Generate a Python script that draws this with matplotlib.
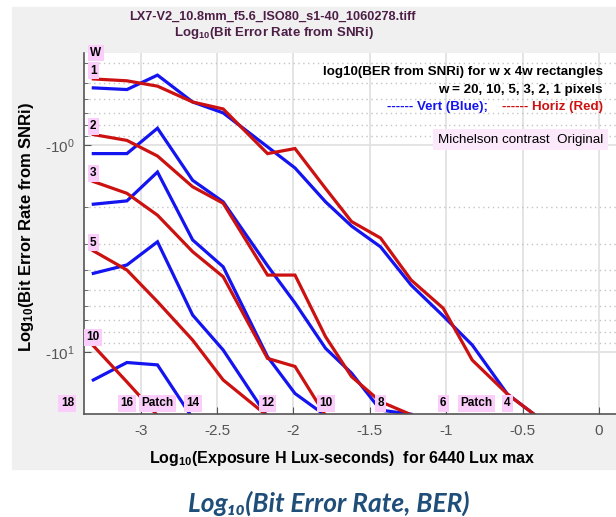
import numpy as np
import matplotlib
matplotlib.use('Agg')
import matplotlib.pyplot as plt
from matplotlib.patches import Rectangle
from matplotlib.ticker import FixedLocator, FuncFormatter, NullFormatter
import matplotlib.transforms as mtransforms

plt.rcParams['font.family'] = ['Liberation Sans', 'DejaVu Sans']
plt.rcParams['mathtext.fontset'] = 'custom'
plt.rcParams['mathtext.rm'] = 'Liberation Sans'
plt.rcParams['mathtext.bf'] = 'Liberation Sans:bold'
plt.rcParams['mathtext.default'] = 'regular'

# log10 exposure of each chart patch (patch 17 .. 3)
patch_x = [-3.31, -3.09, -2.89, -2.66, -2.46, -2.17, -1.99, -1.79,
           -1.62, -1.43, -1.23, -1.02, -0.83, -0.60, -0.41]

# log10(BER) per patch, vertical (blue) and horizontal (red) rectangles
vert_w1 = [-0.53, -0.54, -0.46, -0.62, -0.70, -1.02, -1.29, -1.88, -2.46,
           -3.10, -4.74, -6.68, -9.22, -15.9, -20.3]
horiz_w1 = [-0.48, -0.49, -0.52, -0.62, -0.67, -1.10, -1.04, -1.62, -2.34,
            -2.81, -4.48, -6.13, -10.9, -15.9, -20.3]
vert_w2 = [-1.10, -1.10, -0.83, -1.48, -1.88, -3.82, -5.78, -9.57, -12.6,
           -19.0, -19.9]
horiz_w2 = [-0.89, -0.95, -1.13, -1.59, -1.91, -4.24, -4.24, -8.41, -13.1,
            -17.3, -20.0]
vert_w3 = [-1.93, -1.86, -1.35, -2.87, -3.87, -10.5, -15.8, -20.2]
horiz_w3 = [-1.50, -1.71, -2.18, -3.27, -4.32, -10.7, -11.7, -20.2]
vert_w5 = [-4.16, -3.79, -2.93, -6.61, -9.75, -20.5]
horiz_w5 = [-3.24, -4.01, -5.70, -8.73, -13.6, -20.3]
vert_w10 = [-13.6, -11.2, -11.5, -20.8]
horiz_w10 = [-9.3, -13.9, -20.2]

widths = ['1', '2', '3', '5', '10']
vert = [vert_w1, vert_w2, vert_w3, vert_w5, vert_w10]
horiz = [horiz_w1, horiz_w2, horiz_w3, horiz_w5, horiz_w10]

patch_labels = ['18', '16', 'Patch', '14', '12', '10', '8', '6', 'Patch', '4']
patch_label_x = [-3.48, -3.09, -2.89, -2.66, -2.17, -1.79, -1.43, -1.02, -0.80, -0.60]

xticks = [-3, -2.5, -2, -1.5, -1, -0.5, 0]

pink = '#fbcdfa'
blue = '#1414f0'
red = '#cc1111'

fig = plt.figure(figsize=(6.16, 5.17), dpi=100)
fig.patch.set_facecolor('white')
fig.patches.append(Rectangle((12 / 616, 48 / 517), 1, 462 / 517,
                             transform=fig.transFigure, color='#f0f0f0', zorder=-10))

ax = fig.add_axes([84 / 616, 102.7 / 517, 532 / 616, 361.3 / 517])
ax.set_facecolor('white')

for w, v, h in zip(widths, vert, horiz):
    ax.plot(patch_x[:len(v)], -np.array(v), color=blue, lw=2.3, solid_joinstyle='miter')
    ax.plot(patch_x[:len(h)], -np.array(h), color=red, lw=2.3, solid_joinstyle='miter')
    ax.annotate(w, (patch_x[0], -h[0]), xytext=(0, 6), textcoords='offset points',
                ha='center', va='center', fontsize=8.5, fontweight='bold',
                bbox=dict(boxstyle='square,pad=0.2', fc=pink, ec='none'))

ax.set_yscale('log')
ax.set_xlim(-3.371, 0.111)
ax.set_ylim(19.91, 0.3598)

ax.xaxis.set_major_locator(FixedLocator(xticks))
ax.xaxis.set_major_formatter(FuncFormatter(lambda v, _: '%g' % v))
ax.yaxis.set_major_locator(FixedLocator([1, 10]))
ax.yaxis.set_major_formatter(FuncFormatter(lambda v, _: r'-$10^{%d}$' % round(np.log10(v))))
ax.yaxis.set_minor_locator(FixedLocator([0.4, 0.5, 0.6, 0.7, 0.8, 0.9,
                                         2, 3, 4, 5, 6, 7, 8, 9]))
ax.yaxis.set_minor_formatter(NullFormatter())

ax.grid(which='major', color='#e2e2e2', lw=1.3, ls='-')
ax.grid(which='minor', axis='y', color='#c4c4c4', lw=1.0, ls=(0, (1, 2.5)))
ax.set_axisbelow(True)

ax.tick_params(which='both', direction='in', color='#555555', labelcolor='#555555',
               labelsize=11, top=False, right=False)
ax.tick_params(which='major', length=5, pad=7)
ax.tick_params(which='minor', length=3)
for s in ['top', 'right']:
    ax.spines[s].set_visible(False)
for s in ['left', 'bottom']:
    ax.spines[s].set_color('#555555')
    ax.spines[s].set_linewidth(1.2)

ax.set_ylabel(r'Log$_{10}$(Bit Error Rate from SNRi)', fontsize=12, fontweight='bold')
ax.yaxis.set_label_coords(-0.09, 0.52)
ax.set_xlabel(r'Log$_{10}$(Exposure H Lux-seconds)  for 6440 Lux max',
              fontsize=11.5, fontweight='bold')
ax.xaxis.set_label_coords(0.485, -0.095)

# patch numbers along the bottom
trans = mtransforms.blended_transform_factory(ax.transData, ax.transAxes)
for px, lab in zip(patch_label_x, patch_labels):
    ax.text(px, 0.03, lab, transform=trans, ha='center', va='center', fontsize=8.5,
            fontweight='bold', clip_on=False,
            bbox=dict(boxstyle='square,pad=0.2', fc=pink, ec='none'))

ax.text(-3.295, 1.0, 'W', transform=trans, ha='center', va='center', fontsize=8.5,
        fontweight='bold', clip_on=False,
        bbox=dict(boxstyle='square,pad=0.2', fc=pink, ec='none'))

# legend block
ax.text(0.9756, 0.947, 'log10(BER from SNRi) for w x 4w rectangles', transform=ax.transAxes,
        ha='right', va='center', fontsize=9.6, fontweight='bold')
ax.text(0.9756, 0.898, 'w = 20, 10, 5, 3, 2, 1 pixels', transform=ax.transAxes,
        ha='right', va='center', fontsize=9.6, fontweight='bold')
ax.text(0.9756, 0.851, '------ Horiz (Red)', transform=ax.transAxes,
        ha='right', va='center', fontsize=9.6, fontweight='bold', color=red)
ax.text(0.759, 0.851, '------ Vert (Blue);', transform=ax.transAxes,
        ha='right', va='center', fontsize=9.6, fontweight='bold', color=blue)
ax.text(0.9756, 0.760, 'Michelson contrast  Original', transform=ax.transAxes,
        ha='right', va='center', fontsize=9.6,
        bbox=dict(boxstyle='square,pad=0.35', fc='#fbe8fb', ec='none'))

title_color = '#4d1f47'
fig.text(272 / 616, 1 - 17 / 517, 'LX7-V2_10.8mm_f5.6_ISO80_s1-40_1060278.tiff',
         ha='center', va='center', fontsize=9.2, fontweight='bold', color=title_color)
fig.text(274 / 616, 1 - 33 / 517, r'Log$_{10}$(Bit Error Rate from SNRi)',
         ha='center', va='center', fontsize=9.5, fontweight='bold', color=title_color)

fig.text(329 / 616, 1 - 503 / 517, 'Log₁₀(Bit Error Rate, BER)', ha='center', va='center',
         fontsize=19, fontweight='bold', fontstyle='italic', color='#1f4e79',
         family=['Lato', 'Open Sans', 'DejaVu Sans'])

fig.savefig('out.png', dpi=100, facecolor=fig.get_facecolor())
